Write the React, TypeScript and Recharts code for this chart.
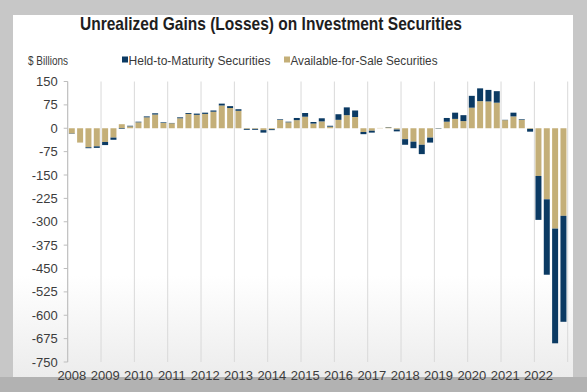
import { BarChart, Bar, XAxis, YAxis, ReferenceLine } from "recharts";

// quarterly, 2008Q1 .. 2022Q4, $ billions
const years = [2008, 2009, 2010, 2011, 2012, 2013, 2014, 2015, 2016, 2017, 2018, 2019, 2020, 2021, 2022];
const quarterNames = ["Q1", "Q2", "Q3", "Q4"];
const quarters = years.flatMap((y) => quarterNames.map((q) => `${y}${q}`));

const availableForSale = [
  -17, -46, -61, -58,
  -44, -30, 13, 6,
  19, 35, 44, 17,
  16, 32, 46, 43,
  46, 53, 73, 65,
  56, -2, -2, -6,
  -3, 27, 19, 26,
  37, 15, 22, 5,
  27, 42, 36, -12,
  -8, 1, 3, -4,
  -35, -43, -53, -30,
  -1, 21, 30, 23,
  66, 87, 86, 82,
  26, 38, 27, -2,
  -153, -228, -322, -281,
];

const heldToMaturity = [
  -1, 0, -3, -5,
  -10, -7, -2, 2,
  2, 3, 4, 2,
  1, 3, 3, 4,
  4, 4, 6, 6,
  5, -3, -3, -8,
  -3, 2, 2, 7,
  12, 5, 10, 3,
  18, 25, 21, -7,
  -6, 0, 1, -6,
  -18, -21, -30, -16,
  -1, 12, 20, 19,
  38, 41, 37, 37,
  1, 12, 2, -9,
  -141, -242, -368, -340,
];

const yTicks = [150, 75, 0, -75, -150, -225, -300, -375, -450, -525, -600, -675, -750];

const NAVY = "#0b3a63";
const TAN = "#c4af78";
const GRID = "#d9d9d9";
const FONT = "'Liberation Sans', Arial, sans-serif";

const data = quarters.map((q, i) => ({
  q,
  afs: availableForSale[i],
  htm: heldToMaturity[i],
}));

const yearStarts = years.map((y) => `${y}Q1`);

export default function App() {
  return (
    <div
      style={{
        position: "absolute",
        left: 0,
        top: 0,
        width: 587,
        height: 392,
        background: "#c7c7c7",
        fontFamily: FONT,
        overflow: "hidden",
      }}
    >
      <div style={{ position: "absolute", left: 0, top: 377, width: 587, height: 15, background: "#b2b2b2" }} />
      <div
        style={{
          position: "absolute",
          left: 13,
          top: 15,
          width: 560,
          height: 362,
          background: "linear-gradient(to bottom, #ffffff 0%, #ffffff 72%, #ececec 100%)",
        }}
      />
      <svg width={587} height={392} style={{ position: "absolute", left: 0, top: 0 }}>
        <text
          x={271}
          y={29.5}
          textAnchor="middle"
          fontSize={18.5}
          fontWeight="bold"
          fill="#1e1e1e"
          fontFamily={FONT}
          textLength={382}
          lengthAdjust="spacingAndGlyphs"
        >
          Unrealized Gains (Losses) on Investment Securities
        </text>
        <text x={28} y={65} fontSize={12} fill="#3a3a3a" fontFamily={FONT} textLength={40} lengthAdjust="spacingAndGlyphs">
          $ Billions
        </text>
        <rect x={122} y={56.5} width={6} height={6} fill={NAVY} />
        <text x={128.5} y={65} fontSize={12.5} fill="#3a3a3a" fontFamily={FONT} textLength={142} lengthAdjust="spacingAndGlyphs">
          Held-to-Maturity Securities
        </text>
        <rect x={284} y={56.5} width={6} height={6} fill={TAN} />
        <text x={290.5} y={65} fontSize={12.5} fill="#3a3a3a" fontFamily={FONT} textLength={147} lengthAdjust="spacingAndGlyphs">
          Available-for-Sale Securities
        </text>
      </svg>
      <div style={{ position: "absolute", left: 0, top: 0 }}>
        <BarChart
          width={587}
          height={392}
          data={data}
          stackOffset="sign"
          barCategoryGap="13%"
          margin={{ top: 81.5, right: 19.3, bottom: 0, left: 0 }}
        >
          <XAxis
            dataKey="q"
            interval={3}
            tickFormatter={(q: string) => q.slice(0, 4)}
            axisLine={false}
            tickLine={false}
            tickSize={0}
            tickMargin={8.5}
            height={30}
            tick={{ fill: "#3c3c3c", fontSize: 13, fontFamily: FONT }}
          />
          <YAxis
            type="number"
            domain={[-750, 150]}
            ticks={yTicks}
            interval={0}
            width={67.7}
            tickSize={4}
            tickMargin={6}
            axisLine={{ stroke: "#bdbdbd" }}
            tickLine={{ stroke: "#bdbdbd" }}
            tick={{ fill: "#3c3c3c", fontSize: 13, fontFamily: FONT }}
          />
          {yearStarts.map((k) => (
            <ReferenceLine key={k} x={k} position="start" stroke={GRID} strokeWidth={1} />
          ))}
          <ReferenceLine x="2022Q4" position="end" stroke={GRID} strokeWidth={1} />
          <Bar dataKey="afs" stackId="s" fill={TAN} isAnimationActive={false} />
          <Bar dataKey="htm" stackId="s" fill={NAVY} isAnimationActive={false} />
        </BarChart>
      </div>
    </div>
  );
}
